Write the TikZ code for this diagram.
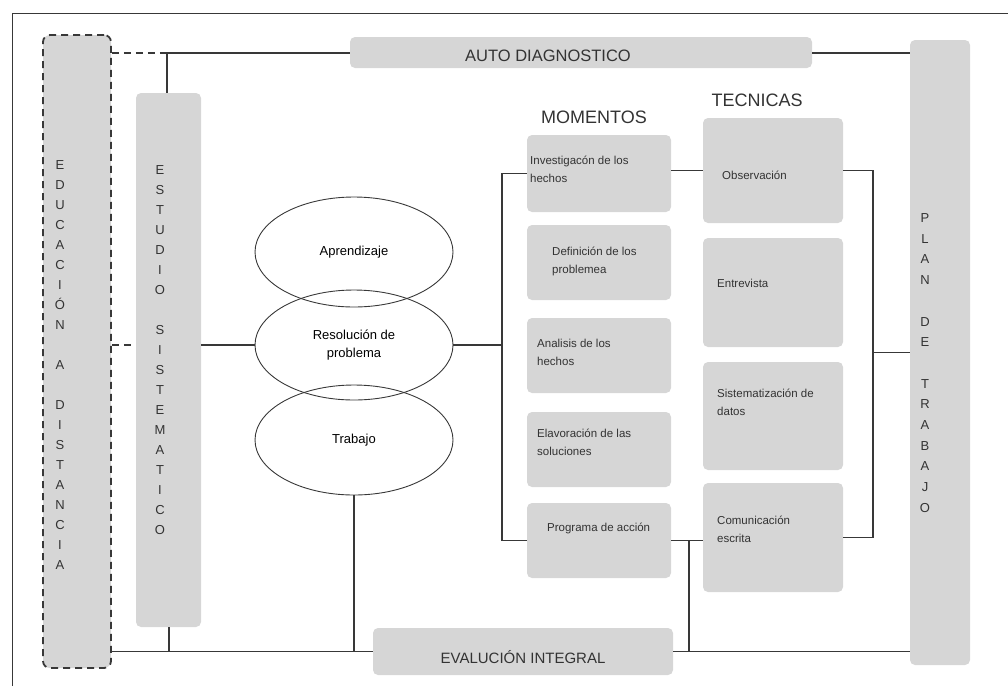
\documentclass[tikz,border=0pt]{standalone}
\usepackage{fontspec}
\setmainfont{Liberation Sans}
\usetikzlibrary{shapes.geometric}
\definecolor{boxgray}{gray}{0.84}
\definecolor{linegray}{gray}{0.22}
\begin{document}
\begin{tikzpicture}[x=1pt,y=-1pt]
\useasboundingbox (0,0) rectangle (1008,686);
\tikzset{
  graybox/.style={fill=boxgray, rounded corners=5pt, inner sep=0pt, draw=none},
  conn/.style={draw=linegray, line width=1.1pt},
  dashconn/.style={draw=linegray, line width=1.8pt, dash pattern=on 7pt off 5pt},
  ell/.style={ellipse, draw=linegray, line width=0.9pt, inner sep=0pt, align=center,
              minimum width=198pt, minimum height=110pt, font=\fontsize{13}{18}\selectfont},
  vtext/.style={align=center, inner sep=0pt, text=black!80, font=\fontsize{13}{20}\selectfont},
  boxtext/.style={anchor=west, align=left, inner sep=0pt, text=black!80, font=\fontsize{11.5}{18}\selectfont},
  title/.style={inner sep=0pt, text=black!80, font=\fontsize{18}{20}\selectfont},
  bartitle/.style={inner sep=0pt, text=black!80, font=\fontsize{16.5}{20}\selectfont}
}
% outer frame
\draw[linegray, line width=0.8pt] (12,686) -- (12,13) -- (1008,13);

% side bars
\node[graybox, dashconn, fill=boxgray, minimum width=68pt, minimum height=633pt, rounded corners=7pt] (edu) at (77,351.5) {};
\node[vtext] (edut) at (60,365) {E\\D\\U\\C\\A\\C\\I\\Ó\\N\\[20pt]A\\[20pt]D\\I\\S\\T\\A\\N\\C\\I\\A};
\node[graybox, minimum width=65pt, minimum height=534pt] (est) at (168.5,360) {};
\node[vtext] (estt) at (160,350) {E\\S\\T\\U\\D\\I\\O\\[20pt]S\\I\\S\\T\\E\\M\\A\\T\\I\\C\\O};
\node[graybox, minimum width=60pt, minimum height=625pt] (plan) at (940,352.5) {};
\node[vtext, font=\fontsize{13}{20.7}\selectfont] (plant) at (925,363) {P\\L\\A\\N\\[20.7pt]D\\E\\[20.7pt]T\\R\\A\\B\\A\\J\\O};

% horizontal bars
\node[graybox, minimum width=462pt, minimum height=31pt] (auto) at (581,52.5) {};
\node[bartitle] (autot) at (548,56) {AUTO DIAGNOSTICO};
\node[graybox, minimum width=300pt, minimum height=47pt] (eval) at (523,651.5) {};
\node[bartitle, font=\fontsize{15}{18}\selectfont] (evalt) at (523,657) {EVALUCIÓN INTEGRAL};

% ellipses
\node[ell] (apr) at (354,252) {Aprendizaje};
\node[ell] (res) at (354,345) {Resolución de\\problema};
\node[ell] (tra) at (354,440) {Trabajo};

% titles
\node[title] (mom) at (594,117) {MOMENTOS};
\node[title] (tec) at (757,100) {TECNICAS};

% momentos boxes
\node[graybox, minimum width=144pt, minimum height=77pt] (m1) at (599,173.5) {};
\node[graybox, minimum width=144pt, minimum height=75pt] (m2) at (599,262.5) {};
\node[graybox, minimum width=144pt, minimum height=75pt] (m3) at (599,355.5) {};
\node[graybox, minimum width=144pt, minimum height=75pt] (m4) at (599,449.5) {};
\node[graybox, minimum width=144pt, minimum height=75pt] (m5) at (599,540.5) {};
\node[boxtext] (m1t) at (530,169) {Investigacón de los\\hechos};
\node[boxtext] (m2t) at (552,261) {Definición de los\\problemea};
\node[boxtext] (m3t) at (537,352) {Analisis de los\\hechos};
\node[boxtext] (m4t) at (537,442) {Elavoración de las\\soluciones};
\node[boxtext] (m5t) at (547,528) {Programa de acción};

% tecnicas boxes
\node[graybox, minimum width=140pt, minimum height=105pt] (t1) at (773,170.5) {};
\node[graybox, minimum width=140pt, minimum height=109pt] (t2) at (773,292.5) {};
\node[graybox, minimum width=140pt, minimum height=108pt] (t3) at (773,416) {};
\node[graybox, minimum width=140pt, minimum height=109pt] (t4) at (773,537.5) {};
\node[boxtext] (t1t) at (722,175) {Observación};
\node[boxtext] (t2t) at (717,283) {Entrevista};
\node[boxtext] (t3t) at (717,402) {Sistematización de\\datos};
\node[boxtext] (t4t) at (717,529) {Comunicación\\escrita};

% coordinates
\coordinate (topj) at (167,53);
\coordinate (mv) at (502,345);
\coordinate (rv) at (873,352.5);
\coordinate (cv) at (689,540.5);
\coordinate (sv) at (169,651.5);

% top connectors
\draw[dashconn] (edu.east |- topj) -- (topj);
\draw[conn] (topj) -- (auto.west |- topj);
\draw[conn] (topj) -- (est.north -| topj);
\draw[conn] (auto.east |- topj) -- (plan.west |- topj);

% left connectors
\draw[dashconn, line width=1.4pt] (edu.east |- res.west) -- (est.west |- res.west);
\draw[conn] (est.east |- res.west) -- (res.west);

% bottom connectors
\draw[conn] (edu.east |- eval.west) -- (eval.west);
\draw[conn] (est.south -| sv) -- (sv);
\draw[conn] (tra.south) -- (tra.south |- eval.west);
\draw[conn] (eval.east) -- (plan.west |- eval.east);

% momentos bracket
\draw[conn] (res.east) -- (mv);
\draw[conn] (m1.west) -| (mv) |- (m5.west);

% momentos -> tecnicas
\draw[conn] (m1.east |- t1.west) -- (t1.west);
\draw[conn] (m5.east) -- (t4.west |- m5.east);
\draw[conn] (cv) -- (cv |- eval.east);

% tecnicas bracket -> plan
\draw[conn] (t1.east) -| (rv) |- (t4.east);
\draw[conn] (rv) -- (plan.west |- rv);
\end{tikzpicture}
\end{document}
